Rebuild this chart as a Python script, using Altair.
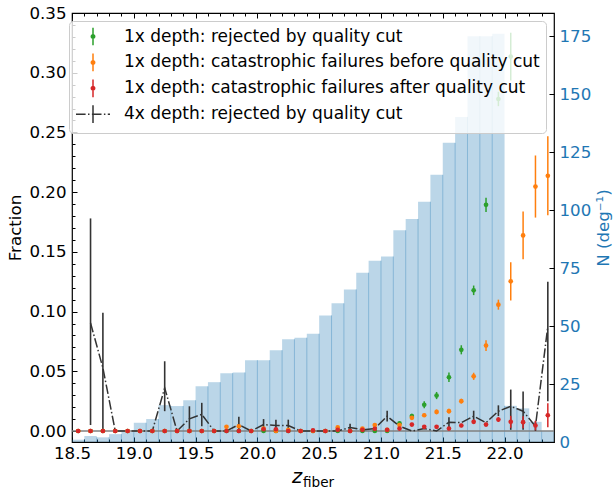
import altair as alt
import pandas as pd

# ---------------- data ----------------
X_START = 18.5       # left edge of the first bin
BIN_W = 0.1
N_BINS = 39

# histogram of N (deg^-1), right axis
hist_n = [1.0, 2.6, 2.0, 3.4, 4.3, 8.3, 9.9, 15.9, 15.5, 18.0,
          24.0, 25.8, 29.7, 30.0, 35.3, 35.3, 39.6, 44.3, 45.0, 46.7,
          54.6, 59.8, 65.8, 73.0, 78.2, 80.0, 91.3, 96.2, 103.6, 115.2,
          129.0, 140.2, 175.0, 175.0, 176.0, 15.6, 14.5, 8.7, 4.7]

# 1x depth: rejected by quality cut (green)
green_val = [0.0] * 26 + [0.0065, 0.0125, 0.022, 0.0297, 0.045, 0.068,
                          0.1178, 0.1894, 0.278, 0.3135, None, None, None]
green_err = [0.0] * 26 + [0.0015, 0.002, 0.003, 0.003, 0.004, 0.0038,
                          0.004, 0.006, 0.006, 0.02, None, None, None]

# 1x depth: catastrophic failures before quality cut (orange)
orange_val = [0, 0, 0, 0, 0, 0, 0, 0, 0, 0, 0, 0, 0.0035, 0.004, 0, 0.002,
              0, 0.001, 0, 0, 0, 0.003, 0, 0.002, 0.005, 0.001, 0.005, 0.011,
              0.0132, 0.016, 0.0166, 0.025, 0.0458, 0.0715, 0.1058, 0.1253,
              0.1638, 0.2047, 0.2137]
orange_err = [0] * 27 + [0.0015, 0.0015, 0.002, 0.002, 0.002, 0.003, 0.0045,
                         0.0042, 0.016, 0.02, 0.026, 0.033]

# 1x depth: catastrophic failures after quality cut (red)
red_val = [0] * 15 + [0.0015, 0.0015, 0, 0, 0.0005, 0, 0.001, 0, 0.001, 0.0018,
                      0.001, 0.002, 0.0054, 0.0035, 0.0035, 0.002, 0.0046,
                      0.0077, 0.0054, 0.0096, 0.0077, 0.0074, 0.0046, 0.0132]
red_err = [0] * 27 + [0.0015, 0.0012, 0.0012, 0.001, 0.0015, 0.0018, 0.0015,
                      0.002, 0.005, 0.005, 0.004, 0.01]

# 4x depth: rejected by quality cut (dark, dash-dot)
deep_val = [None, 0.0905, 0.0528, 0, 0, 0, 0, 0.0361, 0, 0.0102, 0.014, 0, 0,
            0.0054, 0, 0.0054, 0.0046, 0.0046, 0, 0, 0, 0, 0.003, 0.001, 0.002,
            0.0124, 0.004, 0, 0.002, 0, 0.0074, 0.007, 0.0124, 0.007, 0.0166,
            0.0207, 0.0166, 0.004, 0.0877]
deep_lo = [None, 0.005, 0.0, 0, 0, 0, 0, 0.0166, 0, 0.0, 0.004, 0, 0,
           0.0, 0, 0.0005, 0.0, 0.0, 0, 0, 0, 0, 0.0, 0.001, 0.002,
           0.008, 0.004, 0, 0.002, 0, 0.003, 0.007, 0.008, 0.007, 0.0125,
           0.001, 0.001, 0.0, 0.025]
deep_hi = [None, 0.178, 0.099, 0, 0, 0, 0, 0.0584, 0, 0.0207, 0.0236, 0, 0,
           0.012, 0, 0.010, 0.0095, 0.0095, 0, 0, 0, 0, 0.006, 0.001, 0.002,
           0.017, 0.004, 0, 0.002, 0, 0.0115, 0.007, 0.017, 0.007, 0.0215,
           0.0347, 0.033, 0.008, 0.125]

series_names = ["1x depth: rejected by quality cut",
                "1x depth: catastrophic failures before quality cut",
                "1x depth: catastrophic failures after quality cut",
                "4x depth: rejected by quality cut"]
series_colors = ["#2ca02c", "#ff7f0e", "#d62728", "#333333"]

x_major_labels = [18.5, 19.0, 19.5, 20.0, 20.5, 21.0, 21.5, 22.0]
x_major_ticks = [18.5, 19.0, 19.5, 20.0, 20.5, 21.0, 21.5, 22.0]
x_minor_ticks = [18.6, 18.7, 18.8, 18.9, 19.1, 19.2, 19.3, 19.4, 19.6, 19.7,
                 19.8, 19.9, 20.1, 20.2, 20.3, 20.4, 20.6, 20.7, 20.8, 20.9,
                 21.1, 21.2, 21.3, 21.4, 21.6, 21.7, 21.8, 21.9, 22.1, 22.2,
                 22.3]
y_major = [0.0, 0.05, 0.10, 0.15, 0.20, 0.25, 0.30, 0.35]
y_minor = [0.01, 0.02, 0.03, 0.04, 0.06, 0.07, 0.08, 0.09, 0.11, 0.12, 0.13,
           0.14, 0.16, 0.17, 0.18, 0.19, 0.21, 0.22, 0.23, 0.24, 0.26, 0.27,
           0.28, 0.29, 0.31, 0.32, 0.33, 0.34]
n_ticks = [0, 25, 50, 75, 100, 125, 150, 175]

# ---------------- tables ----------------
lo_edges = [round(X_START + BIN_W * k, 3) for k in range(N_BINS)]
hi_edges = [round(e + BIN_W, 3) for e in lo_edges]
centers = [round(e + BIN_W / 2, 3) for e in lo_edges]

hist_df = pd.DataFrame({"x0": lo_edges, "x1": hi_edges, "N": hist_n})
seam_df = pd.DataFrame({"x": lo_edges[1:],
                        "top": [min(a, b) for a, b in zip(hist_n[:-1], hist_n[1:])]})


def pts(vals, errs):
    rows = []
    for c, v, e in zip(centers, vals, errs):
        if v is None:
            continue
        rows.append({"x": c, "v": v, "lo": v - e, "hi": v + e, "e": e})
    return pd.DataFrame(rows)


green_df = pts(green_val, green_err)
orange_df = pts(orange_val, orange_err)
red_df = pts(red_val, red_err)
deep_df = pd.DataFrame([{"x": c, "v": v, "lo": lo, "hi": hi}
                        for c, v, lo, hi in zip(centers, deep_val, deep_lo, deep_hi)
                        if v is not None])

# ---------------- layout ----------------
W, H = 482, 429
FONT = "DejaVu Sans"
FS = 16.67
BLUE = "#1f77b4"

xs = alt.Scale(domain=[X_START, round(X_START + BIN_W * N_BINS, 3)], nice=False, zero=False)
yf = alt.Scale(domain=[-0.0092, 0.35], nice=False, zero=False)
yn = alt.Scale(domain=[0, 185], nice=False, zero=False)

common = dict(grid=False, domain=False, title=None)

x_label_axis = alt.Axis(orient="bottom", values=x_major_labels, format=".1f", ticks=False,
                        labelFontSize=FS, labelFont=FONT, labelColor="black", labelPadding=3,
                        labelOverlap=False, labelFlush=False, **common)
x_bot_major = alt.Axis(orient="top", offset=-H, values=x_major_ticks, labels=False,
                       tickSize=5, tickColor="black", tickWidth=1, **common)
x_bot_minor = alt.Axis(orient="top", offset=-H, values=x_minor_ticks, labels=False,
                       tickSize=3, tickColor="black", tickWidth=1, **common)
x_top_major = alt.Axis(orient="bottom", offset=-H, values=x_major_ticks, labels=False,
                       tickSize=5, tickColor="black", tickWidth=1, **common)
x_top_minor = alt.Axis(orient="bottom", offset=-H, values=x_minor_ticks, labels=False,
                       tickSize=3, tickColor="black", tickWidth=1, **common)

y_label_axis = alt.Axis(orient="left", values=y_major, format=".2f", ticks=False, grid=False,
                        domain=False, labelFontSize=FS, labelFont=FONT, labelColor="black",
                        labelPadding=6, labelOverlap=False, title="Fraction",
                        titleFontSize=FS, titleFont=FONT, titleFontWeight="normal",
                        titleColor="black", titlePadding=4)
y_left_major = alt.Axis(orient="right", offset=-W, values=y_major, labels=False,
                        tickSize=5, tickColor="black", tickWidth=1, **common)
y_left_minor = alt.Axis(orient="right", offset=-W, values=y_minor, labels=False,
                        tickSize=3, tickColor="black", tickWidth=1, **common)

n_label_axis = alt.Axis(orient="right", values=n_ticks, ticks=False, grid=False, domain=False,
                        labelFontSize=FS, labelFont=FONT, labelColor=BLUE, labelPadding=5,
                        labelOverlap=False, title="N (deg⁻¹)", titleFontSize=FS,
                        titleFont=FONT, titleFontWeight="normal", titleColor=BLUE,
                        titleAngle=270, titleBaseline="top", titlePadding=5)
n_inward = alt.Axis(orient="left", offset=-W, values=n_ticks, labels=False,
                    tickSize=5, tickColor="black", tickWidth=1, **common)

# ---------------- layers ----------------
bars = alt.Chart(hist_df).mark_bar(color=BLUE, opacity=0.3, strokeWidth=0).encode(
    x=alt.X("x0:Q", scale=xs, axis=x_label_axis),
    x2="x1:Q",
    y=alt.Y("N:Q", scale=yn, axis=n_label_axis),
    y2=alt.Y2Datum(0),
)

seams = alt.Chart(seam_df).mark_rule(color=BLUE, opacity=0.35, strokeWidth=1).encode(
    x=alt.X("x:Q", scale=xs, axis=x_bot_major),
    y=alt.Y("top:Q", scale=yn, axis=n_inward),
    y2=alt.Y2Datum(0),
)

zero_line = alt.Chart(pd.DataFrame({"z": [0.0]})).mark_rule(color="#808080", strokeWidth=1.5).encode(
    y=alt.Y("z:Q", scale=yf, axis=y_label_axis),
)

deep_line = alt.Chart(deep_df).mark_line(color="#333333", strokeWidth=1.5,
                                         strokeDash=[9.6, 2.4, 1.5, 2.4]).encode(
    x=alt.X("x:Q", scale=xs, axis=x_bot_minor),
    y=alt.Y("v:Q", scale=yf, axis=y_left_major),
)

deep_err = alt.Chart(deep_df).transform_filter("datum.hi > datum.lo").mark_rule(
    color="#333333", strokeWidth=1.6).encode(
    x=alt.X("x:Q", scale=xs, axis=x_top_major),
    y=alt.Y("lo:Q", scale=yf, axis=y_left_minor),
    y2="hi:Q",
)


def err_layer(df, color, xaxis=None):
    return alt.Chart(df).transform_filter("datum.e > 0").mark_rule(
        color=color, strokeWidth=1.5).encode(
        x=alt.X("x:Q", scale=xs, axis=xaxis),
        y=alt.Y("lo:Q", scale=yf, axis=None),
        y2="hi:Q",
    )


def pt_layer(df, color):
    return alt.Chart(df).mark_circle(color=color, opacity=1, size=22).encode(
        x=alt.X("x:Q", scale=xs, axis=None),
        y=alt.Y("v:Q", scale=yf, axis=None),
    )


# legend-only layer (positions are null, so nothing is drawn in the plot)
# symbol unit = sqrt(289)/2 = 8.5 px; handles span +-2 units (34 px)
circle_bar = ("M0,-1.04L0,1.04M0.2,0A0.2,0.2 0 1,1 -0.2,0A0.2,0.2 0 1,1 0.2,0Z")
dash_bar = ("M-2,0L-0.87,0M-0.588,0L-0.412,0M-0.13,0L1,0M1.282,0L1.458,0"
            "M1.74,0L2,0M0,-1.04L0,1.04")
legend_df = pd.DataFrame({"series": series_names, "x": [None] * 4, "y": [None] * 4})
leg = alt.Legend(title=None, orient="none", legendX=-3, legendY=8, direction="vertical",
                 padding=6, fillColor="rgba(255,255,255,0.8)", strokeColor="#cccccc",
                 cornerRadius=4, labelFontSize=17, labelFont=FONT, labelColor="black",
                 labelLimit=1000, labelOffset=21.5, symbolSize=289, symbolOffset=8.5,
                 symbolStrokeWidth=1.5, symbolOpacity=1, rowPadding=0.9)
cs = alt.Scale(domain=series_names, range=series_colors)
legend_layer = alt.Chart(legend_df).mark_point(filled=True, opacity=1, size=289,
                                               strokeWidth=1.5).encode(
    x=alt.X("x:Q", scale=xs, axis=None),
    y=alt.Y("y:Q", scale=yf, axis=None),
    fill=alt.Fill("series:N", scale=cs, legend=leg),
    stroke=alt.Stroke("series:N", scale=cs, legend=leg),
    shape=alt.Shape("series:N", scale=alt.Scale(domain=series_names,
                                                range=[circle_bar, circle_bar, circle_bar, dash_bar]),
                    legend=leg),
)

# x-axis title: italic z with subscript "fiber"
title_df = pd.DataFrame({"t": ["z"]})
ztxt = alt.Chart(title_df).mark_text(font=FONT, fontSize=19.44, fontStyle="italic",
                                     align="left", baseline="alphabetic", color="black").encode(
    x=alt.value(220), y=alt.value(470), text="t:N")
sub_df = pd.DataFrame({"t": ["fiber"]})
subtxt = alt.Chart(sub_df).mark_text(font=FONT, fontSize=13.6, align="left",
                                     baseline="alphabetic", color="black").encode(
    x=alt.value(231), y=alt.value(474), text="t:N")

chart = alt.layer(
    bars, seams, zero_line, deep_line, deep_err,
    err_layer(green_df, "#2ca02c", x_top_minor), pt_layer(green_df, "#2ca02c"),
    err_layer(orange_df, "#ff7f0e"), pt_layer(orange_df, "#ff7f0e"),
    err_layer(red_df, "#d62728"), pt_layer(red_df, "#d62728"),
    legend_layer, ztxt, subtxt,
).resolve_scale(
    y="independent"
).resolve_axis(
    x="independent", y="independent"
).properties(
    width=W, height=H,
    padding={"left": 72, "top": 13, "right": 613 - 72 - W, "bottom": 492 - 13 - H},
    autosize=alt.AutoSizeParams(type="none"),
).configure(font=FONT).configure_view(stroke="black", strokeWidth=1.2)

chart.save("out.html", embed_options={"renderer": "svg", "actions": False})
